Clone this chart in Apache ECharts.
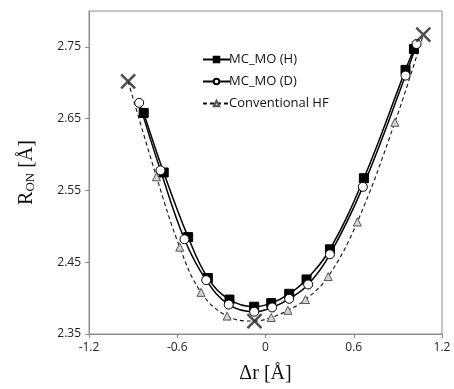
<!DOCTYPE html>
<html>
<head>
<meta charset="utf-8">
<script src="https://cdn.jsdelivr.net/npm/echarts@6/dist/echarts.min.js"></script>
<style>html,body{margin:0;padding:0;background:#fff}#c{width:454px;height:389px}</style>
</head>
<body>
<div id="c"></div>
<script>
// MC_MO (H) - filled squares
var hX = [-0.828, -0.692, -0.526, -0.392, -0.245, -0.077, 0.039, 0.161, 0.279, 0.438, 0.669, 0.952, 1.009];
var hY = [2.658, 2.575, 2.485, 2.428, 2.398, 2.388, 2.393, 2.406, 2.426, 2.468, 2.567, 2.718, 2.747];
// MC_MO (D) - open circles
var dX = [-0.859, -0.714, -0.551, -0.403, -0.250, -0.077, 0.045, 0.161, 0.290, 0.438, 0.662, 0.952, 1.027];
var dY = [2.672, 2.578, 2.482, 2.425, 2.391, 2.381, 2.387, 2.399, 2.419, 2.461, 2.555, 2.710, 2.754];
// Conventional HF - triangles
var hfX = [-0.741, -0.583, -0.438, -0.261, 0.039, 0.152, 0.272, 0.426, 0.624, 0.880];
var hfY = [2.569, 2.471, 2.408, 2.375, 2.373, 2.383, 2.398, 2.430, 2.506, 2.645];
// X markers (stationary points)
var crossX = [-0.934, -0.075, 1.073];
var crossY = [2.702, 2.368, 2.767];
// tick labels
var xTicks = [-1.2, -0.6, 0, 0.6, 1.2];
var yTicks = [2.35, 2.45, 2.55, 2.65, 2.75];

function pairs(xs, ys) { return xs.map(function (x, i) { return [x, ys[i]]; }); }

var hfData = pairs(hfX, hfY).map(function (p) { return { value: p }; });
pairs(crossX, crossY).forEach(function (p) { hfData.push({ value: p, symbol: 'none' }); });
hfData.sort(function (a, b) { return a.value[0] - b.value[0]; });

var chart = echarts.init(document.getElementById('c'));
var tickFont = { fontFamily: 'Open Sans', fontSize: 12, color: '#222' };
chart.setOption({
  animation: false,
  grid: { left: 89, right: 12, top: 11, bottom: 53, show: true, borderColor: '#8c8c8c', borderWidth: 1 },
  legend: {
    orient: 'vertical', left: 197, top: 48, itemWidth: 27, itemHeight: 7, itemGap: 9,
    textStyle: { fontFamily: 'Open Sans', fontSize: 13, color: '#111', padding: [0, 0, 0, -6] },
    data: ['MC_MO (H)', 'MC_MO (D)', 'Conventional HF']
  },
  xAxis: {
    type: 'value', min: -1.2, max: 1.2, interval: 0.6,
    axisLine: { show: true, onZero: false, lineStyle: { color: '#8c8c8c', width: 1 } },
    axisTick: { show: true, length: 4, lineStyle: { color: '#8c8c8c' } },
    axisLabel: Object.assign({ margin: 8, formatter: function (v) { return String(Math.round(v * 10) / 10); } }, tickFont),
    splitLine: { show: false },
    name: 'Δr [Å]', nameLocation: 'middle', nameGap: 30,
    nameTextStyle: { fontFamily: 'Liberation Serif', fontSize: 20, color: '#111' }
  },
  yAxis: {
    type: 'value', min: 2.35, max: 2.80, interval: 0.1,
    axisLine: { show: true, onZero: false, lineStyle: { color: '#8c8c8c', width: 1 } },
    axisTick: { show: true, length: 4, lineStyle: { color: '#8c8c8c' }, customValues: yTicks },
    axisLabel: Object.assign({ margin: 8, customValues: yTicks, formatter: function (v) { return v.toFixed(2); } }, tickFont),
    splitLine: { show: false },
    name: 'R{s|ON} [Å]', nameLocation: 'middle', nameGap: 52, nameRotate: 90,
    nameTextStyle: {
      fontFamily: 'Liberation Serif', fontSize: 20, color: '#111',
      rich: { s: { fontFamily: 'Liberation Serif', fontSize: 13, color: '#111', verticalAlign: 'bottom', padding: [6, 0, 0, 0] } }
    }
  },
  series: [
    {
      name: 'Conventional HF', type: 'line', smooth: 0.4, data: hfData,
      symbol: 'triangle', symbolSize: 8,
      lineStyle: { color: '#111', width: 1.1, type: [4, 3] },
      itemStyle: { color: '#d4d4d4', borderColor: '#555', borderWidth: 1 },
      z: 2
    },
    {
      name: 'MC_MO (D)', type: 'line', smooth: 0.4, data: pairs(dX, dY),
      symbol: 'circle', symbolSize: 9,
      lineStyle: { color: '#000', width: 1.5 },
      itemStyle: { color: '#fff', borderColor: '#000', borderWidth: 1 },
      z: 4
    },
    {
      name: 'MC_MO (H)', type: 'line', smooth: 0.4, data: pairs(hX, hY),
      symbol: 'rect', symbolSize: 9,
      lineStyle: { color: '#000', width: 1.5 },
      itemStyle: { color: '#000', borderColor: '#000', borderWidth: 1 },
      z: 3
    },
    {
      name: 'cross', type: 'scatter', data: pairs(crossX, crossY),
      symbol: 'path://M0,0L10,10M10,0L0,10', symbolSize: 14,
      itemStyle: { color: 'none', borderColor: '#222', borderWidth: 2.5 },
      z: 5
    }
  ]
});
</script>
</body>
</html>
